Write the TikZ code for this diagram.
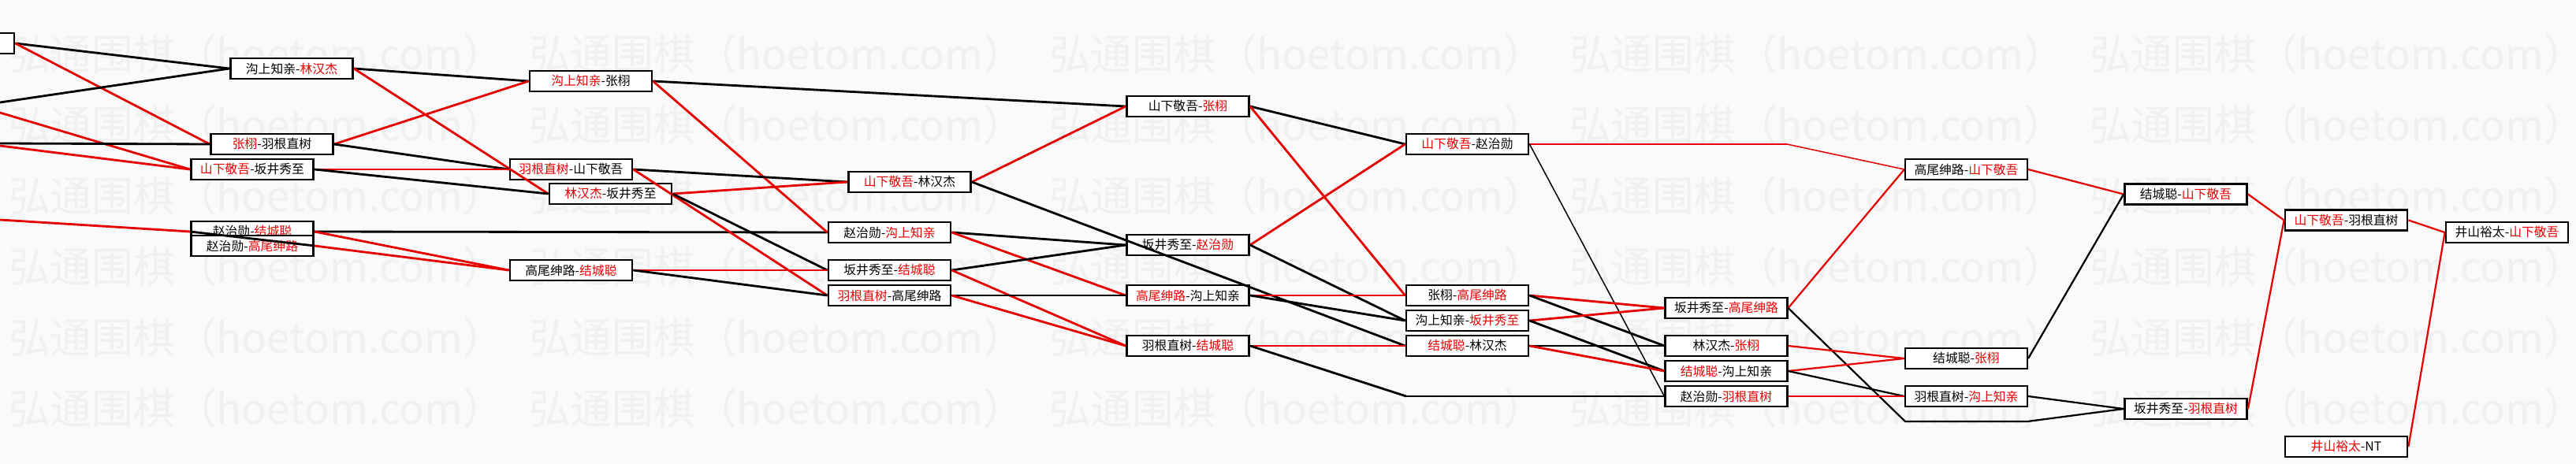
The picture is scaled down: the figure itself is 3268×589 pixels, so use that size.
\documentclass[tikz,border=0pt]{standalone}
\usepackage{fontspec}
\setmainfont{Noto Sans CJK SC}
\definecolor{paper}{HTML}{FAFAFA}
\definecolor{wmgray}{HTML}{F0F0F0}
\definecolor{winred}{HTML}{E60000}
% one name red, the other black
\newcommand{\lred}[2]{\textcolor{winred}{#1}-#2}
\newcommand{\rred}[2]{#1-\textcolor{winred}{#2}}

\begin{document}
\begin{tikzpicture}[x=0.03cm, y=-0.03cm,
  every node/.style={font=\fontsize{13.5}{15}\selectfont},
  match/.style={rectangle, draw=black, line width=2.4pt, fill=white,
    minimum width=4.65cm, minimum height=0.78cm, inner sep=0pt},
  latematch/.style={match, line width=1.8pt},
  bline/.style={draw=black, line width=2.4pt},
  rline/.style={draw=winred, line width=2.4pt},
  bmid/.style={draw=black, line width=1.9pt},
  rmid/.style={draw=winred, line width=1.9pt},
  bthin/.style={draw=black, line width=1.3pt},
  rthin/.style={draw=winred, line width=1.3pt},
  wmark/.style={font=\fontsize{45}{45}\selectfont, text=wmgray, anchor=west, inner sep=0pt}
]
\useasboundingbox (0,0) rectangle (3268,589);
\clip (0,0) rectangle (3268,589);
\fill[paper] (0,0) rectangle (3268,589);

% watermark
\foreach \wy in {68,158,...,518}
  \foreach \wx in {0,...,4}
    \node[wmark] (wm\wx-\wy) at ({11+660*\wx},\wy) {弘通围棋（hoetom.com）};

% round 1
\node[match] (edge)  at (-59.5,55) {};
\node[match] (gsLin) at (370,87)   {\rred{沟上知亲}{林汉杰}};
\node[match] (zxYg)  at (345,183)  {\lred{张栩}{羽根直树}};
\node[match] (sxBj)  at (320,215)  {\lred{山下敬吾}{坂井秀至}};
\node[match] (zzJc)  at (320,294)  {\rred{赵治勋}{结城聪}};
\node[match] (zzGw)  at (320,312)  {\rred{赵治勋}{高尾绅路}};
% round 2
\node[match] (gsZx)  at (749.5,103) {\lred{沟上知亲}{张栩}};
\node[match] (ygSx)  at (724.5,215) {\lred{羽根直树}{山下敬吾}};
\node[match] (linBj) at (774.5,246) {\lred{林汉杰}{坂井秀至}};
\node[match] (gwJc)  at (724.5,343) {\rred{高尾绅路}{结城聪}};
% round 3
\node[match] (sxLin) at (1154,231)   {\lred{山下敬吾}{林汉杰}};
\node[match] (zzGs)  at (1128.5,295) {\rred{赵治勋}{沟上知亲}};
\node[match] (bjJc)  at (1128.5,343) {\rred{坂井秀至}{结城聪}};
\node[match] (ygGw)  at (1128.5,375) {\lred{羽根直树}{高尾绅路}};
% round 4
\node[match] (sxZx)  at (1507,135) {\rred{山下敬吾}{张栩}};
\node[match] (bjZz)  at (1507,311) {\rred{坂井秀至}{赵治勋}};
\node[match] (gwGs)  at (1507,375) {\lred{高尾绅路}{沟上知亲}};
\node[match] (ygJc)  at (1507,439) {\rred{羽根直树}{结城聪}};
% round 5
\node[match] (sxZz)  at (1861.5,183) {\lred{山下敬吾}{赵治勋}};
\node[match] (zxGw)  at (1861.5,375) {\rred{张栩}{高尾绅路}};
\node[match] (gsBj)  at (1861.5,407) {\rred{沟上知亲}{坂井秀至}};
\node[match] (jcLin) at (1861.5,439) {\lred{结城聪}{林汉杰}};
% round 6
\node[latematch] (bjGw)  at (2190,391) {\rred{坂井秀至}{高尾绅路}};
\node[latematch] (linZx) at (2190,439) {\rred{林汉杰}{张栩}};
\node[latematch] (jcGs)  at (2190,471) {\lred{结城聪}{沟上知亲}};
\node[latematch] (zzYg)  at (2190,503) {\rred{赵治勋}{羽根直树}};
% round 7
\node[latematch] (gwSx)  at (2494.5,215) {\rred{高尾绅路}{山下敬吾}};
\node[latematch] (jcZx)  at (2494.5,455) {\rred{结城聪}{张栩}};
\node[latematch] (ygGs)  at (2494.5,503) {\rred{羽根直树}{沟上知亲}};
% round 8 and final
\node[match] (jcSx)  at (2773,246.5)   {\rred{结城聪}{山下敬吾}};
\node[match] (bjYg)  at (2773,519)     {\rred{坂井秀至}{羽根直树}};
\node[match] (sxYg)  at (2976.5,279.5) {\lred{山下敬吾}{羽根直树}};
\node[match] (jsSx)  at (3180.5,295)   {\rred{井山裕太}{山下敬吾}};
\node[match] (jsNT)  at (2976.5,567)   {\lred{井山裕太}{NT}};

% free ends and bends
\coordinate (inA) at (0,130);
\coordinate (inB) at (0,143);
\coordinate (inC) at (0,182);
\coordinate (inD) at (0,185);
\coordinate (inE) at (0,279);
\coordinate (viaYg)  at (1784,503);
\coordinate (viaSx)  at (2267,183);
\coordinate (viaBjA) at (2417,535);
\coordinate (viaBjB) at (2572,535);

% into round 1
\draw[bline] (edge.east) -- (gsLin.west);
\draw[rline] (edge.east) -- (zxYg.west);
\draw[bline] (inA) -- (gsLin.west);
\draw[rline] (inB) -- (sxBj.west);
\draw[bline] (inC) -- (zxYg.west);
\draw[rline] (inD) -- (sxBj.west);
\draw[rline] (inE) -- (zzJc.west);
\draw[bline] (zzJc.west) -- (zzGw.east);
% round 1 -> 2
\draw[bline] (gsLin.east) -- (gsZx.west);
\draw[rline] (gsLin.east) -- (linBj.west);
\draw[rline] (zxYg.east) -- (gsZx.west);
\draw[bline] (zxYg.east) -- (ygSx.west);
\draw[rline] (sxBj.east) -- (ygSx.west);
\draw[bline] (sxBj.east) -- (linBj.west);
\draw[bline] (zzJc.east) -- (zzGs.west);
\draw[rline] (zzJc.east) -- (gwJc.west);
\draw[rline] (zzGw.east) -- (gwJc.west);
% round 2 -> 3
\draw[bline] (gsZx.east) -- (sxZx.west);
\draw[rline] (gsZx.east) -- (zzGs.west);
\draw[bline] (ygSx.east) -- (sxLin.west);
\draw[rline] (ygSx.east) -- (ygGw.west);
\draw[rline] (linBj.east) -- (sxLin.west);
\draw[bline] (linBj.east) -- (bjJc.west);
\draw[rline] (gwJc.east) -- (bjJc.west);
\draw[bline] (gwJc.east) -- (ygGw.west);
% round 3 -> 4
\draw[rline] (sxLin.east) -- (sxZx.west);
\draw[bline] (sxLin.east) -- (jcLin.west);
\draw[bline] (zzGs.east) -- (bjZz.west);
\draw[rline] (zzGs.east) -- (gwGs.west);
\draw[bline] (bjJc.east) -- (bjZz.west);
\draw[rline] (bjJc.east) -- (ygJc.west);
\draw[bline] (ygGw.east) -- (gwGs.west);
\draw[rline] (ygGw.east) -- (ygJc.west);
% round 4 -> 5
\draw[bline] (sxZx.east) -- (sxZz.west);
\draw[rline] (sxZx.east) -- (zxGw.west);
\draw[rline] (bjZz.east) -- (sxZz.west);
\draw[bline] (bjZz.east) -- (gsBj.west);
\draw[rline] (gwGs.east) -- (zxGw.west);
\draw[bline] (gwGs.east) -- (gsBj.west);
\draw[rline] (ygJc.east) -- (jcLin.west);
\draw[bline] (ygJc.east) -- (viaYg);
\draw[bthin] (viaYg) -- (zzYg.west);
% round 5 -> 6
\draw[rthin] (sxZz.east) -- (viaSx) -- (gwSx.west);
\draw[bthin] (sxZz.east) -- (zzYg.west);
\draw[rline] (zxGw.east) -- (bjGw.west);
\draw[bline] (zxGw.east) -- (linZx.west);
\draw[rline] (gsBj.east) -- (bjGw.west);
\draw[bline] (gsBj.east) -- (jcGs.west);
\draw[bline] (jcLin.east) -- (linZx.west);
\draw[rline] (jcLin.east) -- (jcGs.west);
% round 6 -> 7
\draw[rmid] (bjGw.east) -- (gwSx.west);
\draw[bmid] (bjGw.east) -- (viaBjA) -- (viaBjB) -- (bjYg.west);
\draw[rmid] (linZx.east) -- (jcZx.west);
\draw[rmid] (jcGs.east) -- (jcZx.west);
\draw[bmid] (jcGs.east) -- (ygGs.west);
\draw[rmid] (zzYg.east) -- (ygGs.west);
% round 7 -> 8
\draw[rmid] (gwSx.east) -- (jcSx.west);
\draw[bmid] (jcZx.east) -- (jcSx.west);
\draw[bmid] (ygGs.east) -- (bjYg.west);
% final
\draw[rmid] (jcSx.east) -- (sxYg.west);
\draw[rmid] (bjYg.east) -- (sxYg.west);
\draw[rmid] (sxYg.east) -- (jsSx.west);
\draw[rmid] (jsNT.east) -- (jsSx.west);
\end{tikzpicture}
\end{document}
